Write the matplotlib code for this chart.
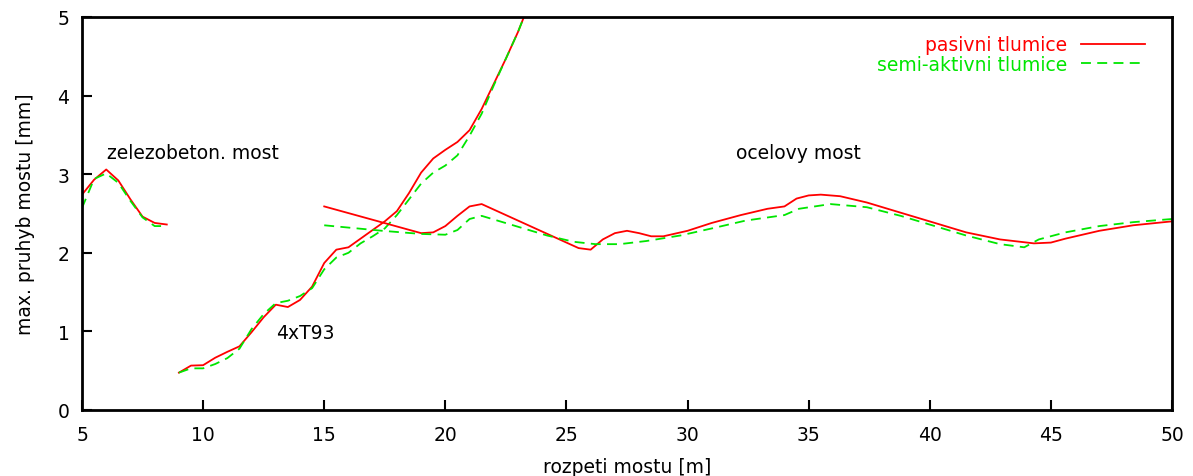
import numpy as np
import matplotlib
matplotlib.use("Agg")
import matplotlib.pyplot as plt

plt.rcParams['font.family'] = ['DejaVu Sans']

# zelezobeton. most
beton_x = [5.0, 5.5, 6.0, 6.5, 7.0, 7.5, 8.0, 8.5]
beton_pas = [2.74, 2.93, 3.06, 2.92, 2.68, 2.46, 2.38, 2.36]
beton_semi = [2.57, 2.94, 3.01, 2.89, 2.66, 2.45, 2.34, 2.34]

# 4xT93
t93_x = [9.0, 9.5, 10.0, 10.5, 11.0, 11.5, 12.0, 12.5, 13.0, 13.5, 14.0, 14.5,
         15.0, 15.5, 16.0, 16.5, 17.0, 17.5, 18.0, 18.5, 19.0, 19.5, 20.0, 20.5,
         21.0, 21.5, 22.0, 22.5, 23.0, 23.5]
t93_pas = [0.475, 0.565, 0.57, 0.665, 0.74, 0.81, 0.99, 1.18, 1.34, 1.31, 1.40, 1.57,
           1.87, 2.04, 2.07, 2.18, 2.29, 2.40, 2.53, 2.76, 3.02, 3.20, 3.31, 3.41,
           3.56, 3.83, 4.15, 4.47, 4.81, 5.20]
t93_semi = [0.475, 0.53, 0.53, 0.585, 0.66, 0.78, 1.03, 1.22, 1.36, 1.39, 1.45, 1.55,
            1.79, 1.94, 2.00, 2.12, 2.21, 2.31, 2.48, 2.68, 2.88, 3.02, 3.11, 3.24,
            3.49, 3.77, 4.13, 4.47, 4.81, 5.20]

# ocelovy most
ocel_x_pas = [15.0, 19.0, 19.5, 20.0, 20.5, 21.0, 21.5, 25.5, 26.0, 26.5, 27.0, 27.5,
              28.0, 28.5, 29.0, 30.0, 31.0, 32.2, 33.3, 34.0, 34.5, 35.0, 35.5, 36.3,
              37.4, 38.8, 40.1, 41.5, 42.9, 44.3, 45.0, 45.6, 47.0, 48.4, 50.0]
ocel_pas = [2.59, 2.25, 2.26, 2.34, 2.47, 2.59, 2.62, 2.06, 2.04, 2.17, 2.25, 2.28,
            2.25, 2.21, 2.21, 2.28, 2.38, 2.48, 2.56, 2.59, 2.69, 2.73, 2.74, 2.72,
            2.64, 2.51, 2.39, 2.26, 2.17, 2.12, 2.13, 2.18, 2.28, 2.35, 2.40]
ocel_x_semi = [15.0, 17.4, 19.0, 20.0, 20.5, 21.0, 21.5, 22.8, 24.2, 25.3, 26.2, 27.2,
               28.3, 29.7, 31.0, 32.4, 34.0, 34.6, 35.9, 37.4, 38.8, 40.1, 41.5, 42.9,
               43.9, 44.5, 45.6, 47.0, 48.4, 50.0]
ocel_semi = [2.35, 2.28, 2.24, 2.23, 2.29, 2.43, 2.47, 2.35, 2.22, 2.14, 2.11, 2.11,
             2.15, 2.22, 2.31, 2.41, 2.48, 2.56, 2.62, 2.58, 2.47, 2.35, 2.22, 2.11,
             2.07, 2.17, 2.26, 2.34, 2.39, 2.43]

red = '#ff0000'
green = '#00e600'
fs = 13.5

fig = plt.figure(figsize=(11.93, 4.77), dpi=100)
ax = fig.add_axes([82 / 1193, 66 / 477, 1090 / 1193, 393 / 477])

lw = 1.3
dash = (0, (5.5, 3.5))
ax.plot(beton_x, beton_pas, color=red, lw=lw, label='pasivni tlumice')
ax.plot(beton_x, beton_semi, color=green, lw=lw, ls=dash, label='semi-aktivni tlumice')
ax.plot(t93_x, t93_pas, color=red, lw=lw)
ax.plot(t93_x, t93_semi, color=green, lw=lw, ls=dash)
ax.plot(ocel_x_pas, ocel_pas, color=red, lw=lw)
ax.plot(ocel_x_semi, ocel_semi, color=green, lw=lw, ls=dash)

ax.set_xlim(5, 50)
ax.set_ylim(0, 5)
ax.set_xticks(np.arange(5, 51, 5))
ax.set_yticks(np.arange(0, 6, 1))
ax.tick_params(direction='in', length=7, width=1.5, labelsize=fs)
ax.tick_params(axis='x', pad=11)
ax.tick_params(axis='y', pad=9)
for s in ax.spines.values():
    s.set_linewidth(2)

ax.set_xlabel('rozpeti mostu [m]', fontsize=fs, labelpad=9)
ax.set_ylabel('max. pruhyb mostu [mm]', fontsize=fs, labelpad=16)

ax.text(6.05, 3.28, 'zelezobeton. most', fontsize=fs, va='center')
ax.text(13.0, 0.98, '4xT93', fontsize=fs, va='center')
ax.text(32.0, 3.27, 'ocelovy most', fontsize=fs, va='center')

ax.legend(loc='upper right', bbox_to_anchor=(0.982, 0.973), frameon=False,
          markerfirst=False, labelcolor='linecolor', fontsize=fs,
          handlelength=3.4, handletextpad=0.75, labelspacing=0.05,
          borderaxespad=0)

fig.savefig('out.png', dpi=100)
